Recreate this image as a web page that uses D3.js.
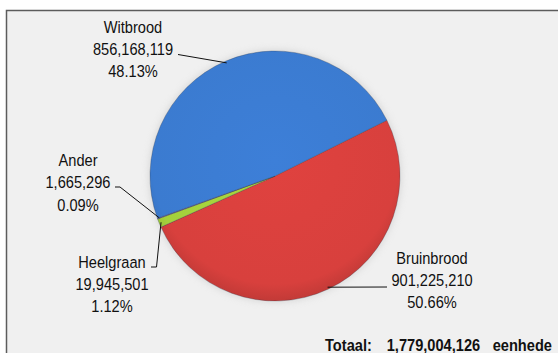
<!DOCTYPE html>
<html>
<head>
<meta charset="utf-8">
<script src="https://cdn.jsdelivr.net/npm/d3@7"></script>
<style>
  body { margin: 0; background: #fff; }
  text { font-family: "Liberation Sans", Arial, sans-serif; fill: #111; }
</style>
</head>
<body>
<div id="chart"></div>
<script>
// Data
const categories = ["Bruinbrood", "Heelgraan", "Ander", "Witbrood"];
const values = [901225210, 19945501, 1665296, 856168119];
const sliceColors = ["#d8403d", "#a4d13c", "#7a5fa8", "#3b7bd0"];
const totalLabel = "Totaal:";
const unitLabel = "eenhede";

var width = 558, height = 353;
var cx = 275, cy = 176, radius = 125;
var startDeg = 63.5;

// label layout (center x, first baseline, text-side leader points)
var labelLayout = {
   "Bruinbrood": { x: 432, y: 263.5, lead: [[387, 287]] },
   "Heelgraan": { x: 112, y: 267.5, lead: [[151, 267], [156.5, 267]] },
   "Ander": { x: 78, y: 166, lead: [[115, 187], [120, 187]] },
   "Witbrood": { x: 133, y: 32.5, lead: [[178, 54.5]] }
};

var svg = d3.select("#chart")
   .append("svg")
   .attr("width", width)
   .attr("height", height);

var defs = svg.append("defs");

// soft halo round the pie
defs.append("filter")
   .attr("id", "halo")
   .attr("x", "-20%").attr("y", "-20%").attr("width", "140%").attr("height", "140%")
   .append("feGaussianBlur")
   .attr("stdDeviation", 3);

// a light 3D-ish shading for every slice
sliceColors.forEach(function (c, i) {
   var gr = defs.append("radialGradient")
      .attr("id", "grad" + i)
      .attr("gradientUnits", "userSpaceOnUse")
      .attr("cx", 0).attr("cy", -15)
      .attr("r", radius * 1.12);
   gr.append("stop").attr("offset", "0%").attr("stop-color", d3.color(c).brighter(0.1).formatHex());
   gr.append("stop").attr("offset", "88%").attr("stop-color", c);
   gr.append("stop").attr("offset", "100%").attr("stop-color", d3.color(c).darker(0.3).formatHex());
});

// frame
svg.append("rect")
   .attr("x", 6.5).attr("y", 10.5)
   .attr("width", 620).attr("height", 420)
   .attr("fill", "#f0f0f0")
   .attr("stroke", "#5c5c5c")
   .attr("stroke-width", 1.5);

var pie = d3.pie()
   .sort(null)
   .startAngle(startDeg * Math.PI / 180)
   .endAngle(startDeg * Math.PI / 180 + 2 * Math.PI);

var arcs = pie(values);
var total = d3.sum(values);

var arc = d3.arc().innerRadius(0).outerRadius(radius);
var anchorArc = d3.arc().innerRadius(radius - 2).outerRadius(radius - 2);

var g = svg.append("g").attr("transform", "translate(" + cx + "," + cy + ")");

g.append("circle")
   .attr("r", radius + 2)
   .attr("fill", "#c8c8c8")
   .attr("opacity", 0.5)
   .attr("filter", "url(#halo)");

g.selectAll("path.slice")
   .data(arcs)
   .enter().append("path")
   .attr("class", "slice")
   .attr("d", arc)
   .attr("fill", function (d, i) { return "url(#grad" + i + ")"; })
   .attr("stroke", "rgba(40,50,70,0.4)")
   .attr("stroke-width", 0.7);

var fmtNum = d3.format(",");
var fmtPct = d3.format(".2%");

// leader lines and labels
arcs.forEach(function (d, i) {
   var lay = labelLayout[categories[i]];
   var c = anchorArc.centroid(d);
   var pts = lay.lead.concat([[cx + c[0], cy + c[1]]]);
   svg.append("path")
      .attr("d", d3.line()(pts))
      .attr("fill", "none")
      .attr("stroke", "#111")
      .attr("stroke-width", 1);

   var t = svg.append("g")
      .attr("transform", "translate(" + lay.x + "," + lay.y + ") scale(0.86,1)");
   var lines = [categories[i], fmtNum(values[i]), fmtPct(values[i] / total)];
   lines.forEach(function (s, j) {
      t.append("text")
         .attr("x", 0)
         .attr("y", j * 22.3)
         .attr("text-anchor", "middle")
         .style("font-size", "17px")
         .text(s);
   });
});

// total line
var tt = svg.append("g")
   .attr("transform", "translate(325,351) scale(0.86,1)");
var totalText = tt.append("text")
   .style("font-size", "17px")
   .style("font-weight", "bold");
totalText.append("tspan").attr("x", 0).text(totalLabel);
totalText.append("tspan").attr("x", (386.7 - 325) / 0.86).text(fmtNum(total));
totalText.append("tspan").attr("x", (492.7 - 325) / 0.86).text(unitLabel);
</script>
</body>
</html>
